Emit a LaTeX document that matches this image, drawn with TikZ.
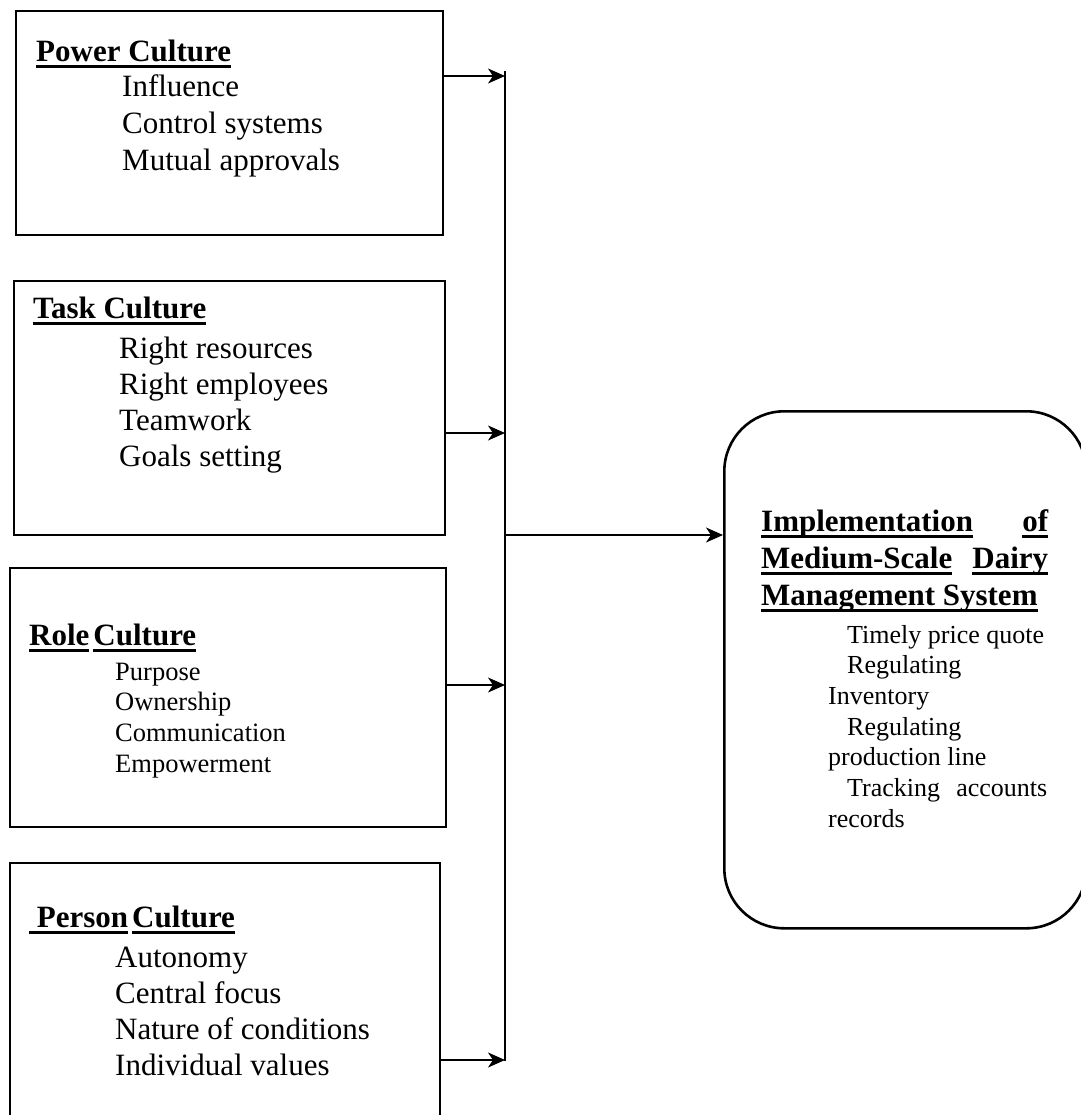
\documentclass[tikz,border=0pt]{standalone}
\usepackage{fontspec}
\setmainfont{Liberation Serif}
\usetikzlibrary{arrows.meta}

% thick underline for the headings
\newcommand{\ulw}[1]{\setbox0=\hbox{#1}\rlap{\rule[-6.5pt]{\wd0}{3pt}}\box0\relax}
\newcommand{\culist}[1]{\begin{tabular}[t]{@{}l@{}}#1\end{tabular}}

\tikzset{
  cultbox/.style={draw, line width=2.4pt, rectangle, anchor=north west, inner sep=0pt},
  implbox/.style={draw, line width=2.6pt, rounded corners=60pt, anchor=north west, inner sep=0pt},
  txt/.style={anchor=base west, inner sep=0pt},
  headfont/.style={font=\bfseries\fontsize{31}{37}\selectfont},
  itemfont/.style={font=\fontsize{31}{36.6}\selectfont},
  smallfont/.style={font=\fontsize{26.5}{30.8}\selectfont},
  flow/.style={line width=1.6pt, -{Stealth[length=17pt,width=15pt,inset=5pt]}},
}

\begin{document}
\begin{tikzpicture}[x=1pt, y=-1pt]

\useasboundingbox (0,0) rectangle (1080,1115);

% Culture boxes
\node[cultbox, minimum width=427, minimum height=224] (power) at (15,10) {};
\node[cultbox, minimum width=431, minimum height=254] (task) at (13,280) {};
\node[cultbox, minimum width=436, minimum height=259] (role) at (9,567) {};
\node[cultbox, minimum width=430, minimum height=263] (person) at (9,862) {};

% Headings
\node[txt, headfont] (powerhead) at (36,62) {\ulw{Power Culture}};
\node[txt, headfont] (taskhead) at (33,318) {\ulw{Task Culture}};
\node[txt, headfont] (rolehead) at (29,645) {\ulw{Role}\hspace{4pt}\ulw{Culture}};
\node[txt, headfont] (personhead) at (29,927) {\ulw{\ Person}\hspace{4pt}\ulw{Culture}};

% Lists
\node[txt, itemfont] (powerlist) at (122,97)
  {\culist{Influence\\ Control systems\\ Mutual approvals}};
\node[txt, font=\fontsize{31}{36}\selectfont] (tasklist) at (119,358)
  {\culist{Right resources\\ Right employees\\ Teamwork\\ Goals setting}};
\node[txt, smallfont] (rolelist) at (115,680)
  {\culist{Purpose\\ Ownership\\ Communication\\ Empowerment}};
\node[txt, font=\fontsize{31}{36}\selectfont] (personlist) at (115,967)
  {\culist{Autonomy\\ Central focus\\ Nature of conditions\\ Individual values}};

% Implementation box
\node[implbox, minimum width=362, minimum height=517] (impl) at (723,410) {};
\node[txt, headfont] (implhead) at (761,531)
  {\begin{tabular}[t]{@{}l@{}}
    \makebox[287pt][s]{\ulw{Implementation} \ulw{of}}\\
    \makebox[287pt][s]{\ulw{Medium-Scale} \ulw{Dairy}}\\
    \ulw{Management System}
  \end{tabular}};
\node[txt, font=\fontsize{26}{30.7}\selectfont] (impllist) at (828,643)
  {\begin{tabular}[t]{@{}l@{}}
    \hspace{19pt}Timely price quote\\
    \hspace{19pt}Regulating\\
    Inventory\\
    \hspace{19pt}Regulating\\
    production line\\
    \hspace{19pt}\makebox[200pt][s]{Tracking accounts}\\
    records
  \end{tabular}};

% Collector line
\coordinate (p1) at (505,76);
\coordinate (p2) at (505,433);
\coordinate (p3) at (505,685);
\coordinate (p4) at (505,1060);
\coordinate (mid) at (505,535);
\draw[line width=2pt] (505,71) -- (505,1061);

% Arrows
\draw[flow] (power.east |- p1) -- (p1);
\draw[flow] (task.east |- p2) -- (p2);
\draw[flow] (role.east |- p3) -- (p3);
\draw[flow] (person.east |- p4) -- (p4);
\draw[flow] (mid) -- (impl.west |- mid);

\end{tikzpicture}
\end{document}
